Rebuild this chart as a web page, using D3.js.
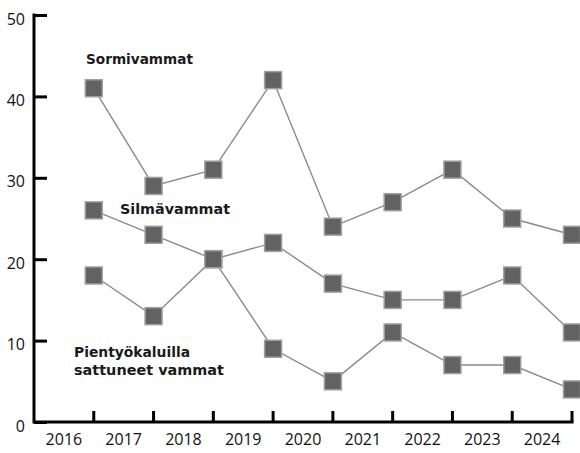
<!DOCTYPE html>
<html><head><meta charset="utf-8">
<script src="https://cdn.jsdelivr.net/npm/d3@7"></script>
<style>body{margin:0;background:#fff}svg{display:block}</style>
</head><body>
<script>
const years = ["2016","2017","2018","2019","2020","2021","2022","2023","2024"];
const sormi = [41, 29, 31, 42, 24, 27, 31, 25, 23];
const silma = [26, 23, 20, 22, 17, 15, 15, 18, 11];
const pien = [18, 13, 20, 9, 5, 11, 7, 7, 4];
const yTicks = [0, 10, 20, 30, 40, 50];
const seriesNames = ["Sormivammat", "Silmävammat", "Pientyökaluilla", "sattuneet vammat"];

const W = 580, H = 453;
const svg = d3.select("body").append("svg").attr("width", W).attr("height", H);
const x = d3.scaleBand().domain(years).range([34, 572]);
const y = d3.scaleLinear().domain([0, 50]).range([422, 15]);
const px = d => x(d) + x.bandwidth();

const font = "'Open Sans', 'Noto Sans', sans-serif";

// lines and markers
const line = d3.line().x((d, i) => px(years[i])).y(d => y(d));
[sormi, silma, pien].forEach(s => {
  svg.append("path").datum(s).attr("d", line)
    .attr("fill", "none").attr("stroke", "#8a8a8a").attr("stroke-width", 1.4);
});
[sormi, silma, pien].forEach(s => {
  svg.append("g").selectAll("rect").data(s).join("rect")
    .attr("x", (d, i) => px(years[i]) - 8.5)
    .attr("y", d => y(d) - 8.5)
    .attr("width", 17).attr("height", 17)
    .attr("fill", "#626262").attr("stroke", "#a0a0a0").attr("stroke-width", 1.5);
});

// y axis
const ya = svg.append("g").attr("transform", "translate(34,0)")
  .call(d3.axisRight(y).tickValues(yTicks).tickSize(13).tickFormat(""));
ya.select(".domain").remove();
ya.selectAll(".tick line").attr("stroke", "#000").attr("stroke-width", 3);
svg.append("line").attr("x1", 34).attr("x2", 34).attr("y1", y(50) - 1.5).attr("y2", y(0) + 1.5)
  .attr("stroke", "#000").attr("stroke-width", 3);
svg.append("g").selectAll("text").data(yTicks).join("text")
  .attr("x", 25).attr("y", d => y(d) + 4).attr("dy", "0.35em")
  .attr("text-anchor", "end").attr("font-family", font).attr("font-size", 16)
  .attr("fill", "#111").text(d => d);

// x axis
svg.append("line").attr("x1", 34).attr("x2", 573.5).attr("y1", 422).attr("y2", 422)
  .attr("stroke", "#000").attr("stroke-width", 3);
svg.append("g").selectAll("line").data(years).join("line")
  .attr("x1", d => px(d)).attr("x2", d => px(d)).attr("y1", 422).attr("y2", 411)
  .attr("stroke", "#000").attr("stroke-width", 3);
const xa = svg.append("g").attr("transform", "translate(0,422)")
  .call(d3.axisBottom(x).tickSize(0).tickPadding(12));
xa.select(".domain").remove();
xa.selectAll("text").attr("font-family", font).attr("font-size", 16).attr("fill", "#111");

// series labels
const lf = "'DejaVu Sans', sans-serif";
const lab = svg.append("g").attr("font-family", lf).attr("font-weight", 700)
  .attr("font-size", 13.5).attr("fill", "#1a1a1a");
const addLab = (txt, lx, ly, w) => lab.append("text").attr("x", lx).attr("y", ly)
  .attr("textLength", w).attr("lengthAdjust", "spacingAndGlyphs").text(txt);
addLab(seriesNames[0], 86, 64, 107);
addLab(seriesNames[1], 120, 214, 110);
addLab(seriesNames[2], 74, 357, 116);
addLab(seriesNames[3], 74, 375, 150);
</script>
</body></html>
